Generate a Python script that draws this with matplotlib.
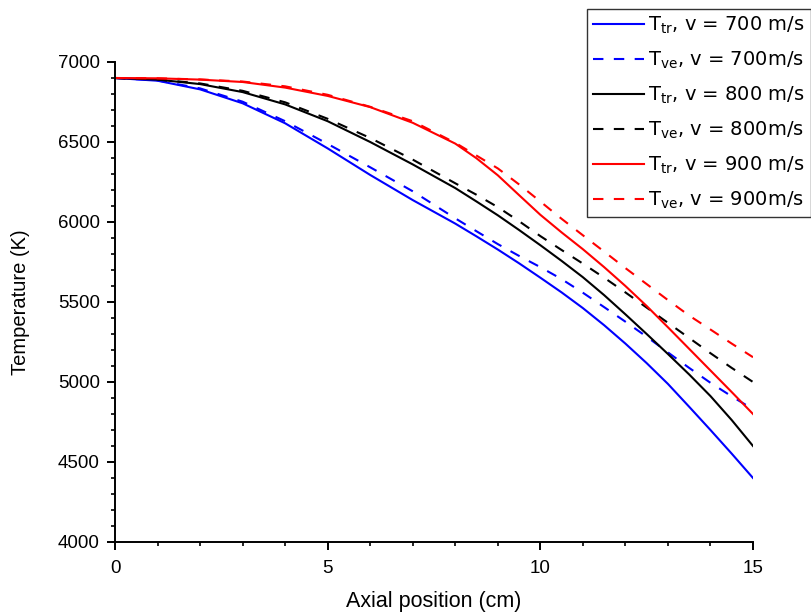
import numpy as np
import matplotlib
matplotlib.use('Agg')
import matplotlib.pyplot as plt
from matplotlib.ticker import MultipleLocator

plt.rcParams['font.family'] = ['Liberation Sans', 'DejaVu Sans']

# Posicio axial (cm)
x = [0, 1, 2, 3, 4, 5, 6, 7, 8, 8.5, 9, 9.5, 10, 10.5, 11, 11.5,
     12, 12.5, 13, 13.5, 14, 14.5, 15]

# Temperatures (K) llegides del grafic
ttr_700 = [6900, 6883, 6829, 6742, 6617, 6460, 6294, 6137, 5990, 5910, 5828, 5742,
           5652, 5560, 5462, 5355, 5240, 5118, 4988, 4845, 4700, 4552, 4400]
tve_700 = [6900, 6885, 6835, 6752, 6630, 6488, 6342, 6192, 6023, 5942, 5862, 5788,
           5718, 5643, 5558, 5468, 5377, 5283, 5185, 5088, 4995, 4910, 4830]
ttr_800 = [6900, 6890, 6862, 6812, 6735, 6630, 6500, 6360, 6212, 6128, 6042, 5950,
           5855, 5757, 5655, 5543, 5423, 5300, 5175, 5047, 4912, 4762, 4600]
tve_800 = [6900, 6891, 6866, 6820, 6748, 6645, 6525, 6390, 6242, 6170, 6093, 6005,
           5912, 5825, 5740, 5652, 5560, 5465, 5370, 5275, 5180, 5088, 5000]
ttr_900 = [6900, 6898, 6890, 6875, 6840, 6788, 6718, 6620, 6490, 6398, 6292, 6168,
           6045, 5935, 5830, 5718, 5600, 5475, 5342, 5207, 5072, 4937, 4800]
tve_900 = [6900, 6898, 6891, 6878, 6848, 6795, 6720, 6630, 6495, 6415, 6335, 6235,
           6128, 6020, 5917, 5815, 5712, 5612, 5512, 5415, 5328, 5240, 5155]

fig = plt.figure(figsize=(8.11, 6.15), dpi=100)
ax = fig.add_axes([115/811, 1 - 542/615, (753 - 115)/811, (542 - 62)/615])

lw = 1.5
dash = (5, 5)
ax.plot(x, ttr_700, color='#0000ff', lw=lw, label=r'$\mathregular{T_{tr}}$, v = 700 m/s')
ax.plot(x, tve_700, color='#0000ff', lw=lw, dashes=dash, label=r'$\mathregular{T_{ve}}$, v = 700m/s')
ax.plot(x, ttr_800, color='black', lw=lw, label=r'$\mathregular{T_{tr}}$, v = 800 m/s')
ax.plot(x, tve_800, color='black', lw=lw, dashes=dash, label=r'$\mathregular{T_{ve}}$, v = 800m/s')
ax.plot(x, ttr_900, color='#ff0000', lw=lw, label=r'$\mathregular{T_{tr}}$, v = 900 m/s')
ax.plot(x, tve_900, color='#ff0000', lw=lw, dashes=dash, label=r'$\mathregular{T_{ve}}$, v = 900m/s')

ax.set_xlim(0, 15)
ax.set_ylim(4000, 7000)
ax.xaxis.set_major_locator(MultipleLocator(5))
ax.xaxis.set_minor_locator(MultipleLocator(1))
ax.yaxis.set_major_locator(MultipleLocator(500))
ax.yaxis.set_minor_locator(MultipleLocator(100))

for s in ['top', 'right']:
    ax.spines[s].set_visible(False)
for s in ['left', 'bottom']:
    ax.spines[s].set_linewidth(1.4)

ax.tick_params(which='major', direction='out', length=6, width=1.4, labelsize=13.5)
ax.tick_params(axis='x', which='major', pad=7)
ax.tick_params(axis='y', which='major', pad=5)
ax.tick_params(which='minor', direction='out', length=3, width=1.2)

ax.set_xlabel('Axial position (cm)', fontsize=15.5, labelpad=10)
ax.set_ylabel('Temperature (K)', fontsize=14.5, labelpad=20)

leg = fig.legend(loc='upper left', bbox_to_anchor=(587/811, 1 - 9/615),
                 prop={'family': 'DejaVu Sans', 'size': 14},
                 frameon=True, fancybox=False, shadow=False,
                 handlelength=2.65, handletextpad=0.2, labelspacing=0.7,
                 borderpad=0.3, borderaxespad=0)
leg.get_frame().set_edgecolor('black')
leg.get_frame().set_linewidth(1.0)

fig.savefig('out.png', dpi=100)
